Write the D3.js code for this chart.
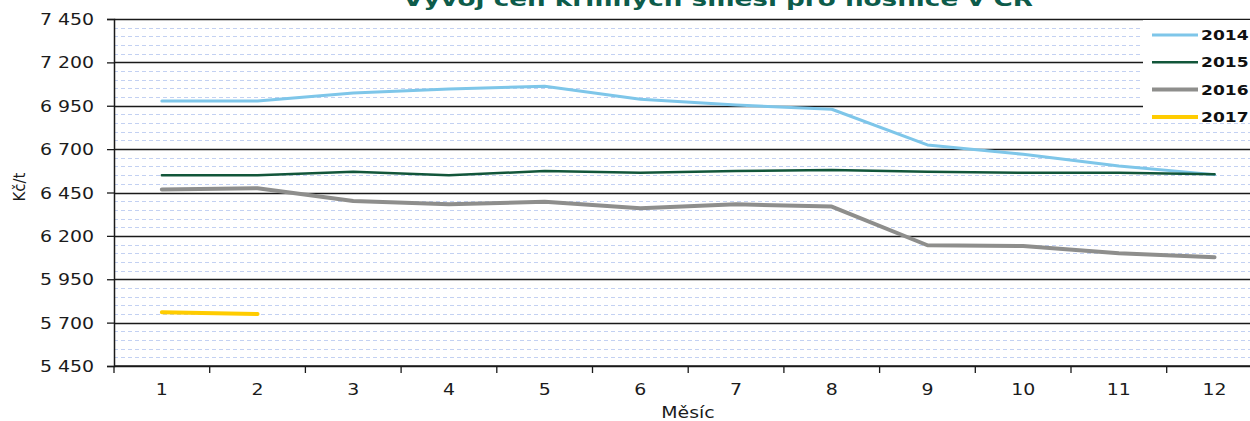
<!DOCTYPE html>
<html>
<head>
<meta charset="utf-8">
<script src="https://cdn.jsdelivr.net/npm/d3@7"></script>
<style>
  body { margin: 0; background: #fff; }
  svg { display: block; font-family: 'DejaVu Sans', Verdana, sans-serif; }
</style>
</head>
<body>
<svg width="1250" height="421"></svg>
<script>
// months and values (Kč/t)
const months = ['1', '2', '3', '4', '5', '6', '7', '8', '9', '10', '11', '12'];
const years = ['2014', '2015', '2016', '2017'];
const v2014 = [6977, 6977, 7024, 7047, 7062, 6987, 6954, 6930, 6724, 6670, 6603, 6553];
const v2015 = [6549, 6550, 6570, 6549, 6574, 6564, 6574, 6580, 6570, 6564, 6564, 6555];
const v2016 = [6468, 6475, 6401, 6382, 6397, 6359, 6382, 6369, 6146, 6142, 6100, 6077];
const v2017 = [5760, 5750];
const yTicks = [5450, 5700, 5950, 6200, 6450, 6700, 6950, 7200, 7450];

const series = [v2014, v2015, v2016, v2017];
const colors = ['#7ec6e9', '#12563a', '#8e8e8c', '#ffcc00'];
const widths = [3, 2.5, 4, 4];

// the original picture is stretched sideways a bit
const SX = 1.22;

const svg = d3.select('svg');
const margin = { top: 19, left: 114, bottom: 55 };
const height = +svg.attr('height') - margin.top - margin.bottom;
const band = 95.7;
const width = band * months.length;

const chart = svg.append('g')
    .attr('transform', `translate(${margin.left},${margin.top})`);

const xScale = d3.scaleBand().domain(months).range([0, width]);
const yScale = d3.scaleLinear().domain([5450, 7450]).range([height, 0]);

const fmt = d3.formatLocale({ decimal: ',', thousands: ' ', grouping: [3] }).format(',d');

// minor dashed grid every 50
const minor = d3.range(5500, 7450, 50).filter(d => yTicks.indexOf(d) < 0);
chart.append('g')
    .selectAll('line')
    .data(minor)
    .enter()
    .append('line')
    .attr('x1', 0)
    .attr('x2', width)
    .attr('y1', d => Math.round(yScale(d)) + 0.5)
    .attr('y2', d => Math.round(yScale(d)) + 0.5)
    .style('stroke', '#c3d1f2')
    .style('stroke-dasharray', '4,3')
    .style('stroke-width', 1);

// major grid
chart.append('g')
    .selectAll('line')
    .data(yTicks)
    .enter()
    .append('line')
    .attr('x1', 0)
    .attr('x2', width)
    .attr('y1', d => Math.round(yScale(d)) + 0.5)
    .attr('y2', d => Math.round(yScale(d)) + 0.5)
    .style('stroke', '#1a1a1a')
    .style('stroke-width', 1.3);

// Y axis
const yAxis = chart.append('g')
    .call(d3.axisLeft(yScale).tickValues(yTicks).tickFormat(fmt).tickSize(7).tickPadding(0));
yAxis.select('.domain').style('stroke', '#1a1a1a').style('stroke-width', 1.5);
yAxis.selectAll('line').style('stroke', '#1a1a1a').style('stroke-width', 1.3);
yAxis.selectAll('text')
    .attr('x', -20 / SX)
    .attr('dy', '0.36em')
    .attr('transform', `scale(${SX},1)`)
    .style('font-size', '15.5px')
    .style('fill', '#1b1b1b')
    .style('font-family', "'DejaVu Sans', Verdana, sans-serif");

// X axis, ticks on band edges
const xAxis = chart.append('g')
    .attr('transform', `translate(0,${height})`);
xAxis.append('line')
    .attr('x1', 0)
    .attr('x2', width)
    .style('stroke', '#1a1a1a')
    .style('stroke-width', 1.5);
xAxis.selectAll('.edge')
    .data(d3.range(months.length + 1))
    .enter()
    .append('line')
    .attr('class', 'edge')
    .attr('x1', i => i * xScale.step())
    .attr('x2', i => i * xScale.step())
    .attr('y1', 0)
    .attr('y2', 7)
    .style('stroke', '#1a1a1a')
    .style('stroke-width', 1.3);
xAxis.selectAll('.lbl')
    .data(months)
    .enter()
    .append('text')
    .attr('class', 'lbl')
    .attr('transform', d => `translate(${xScale(d) + xScale.bandwidth() / 2},29) scale(${SX},1)`)
    .style('text-anchor', 'middle')
    .style('font-size', '15.5px')
    .style('fill', '#1b1b1b')
    .text(d => d);

// axis titles
svg.append('text')
    .attr('transform', `translate(688,418) scale(${SX},1)`)
    .style('text-anchor', 'middle')
    .style('font-size', '15.5px')
    .style('fill', '#1b1b1b')
    .text('Měsíc');

svg.append('text')
    .attr('transform', 'translate(25,187) rotate(-90)')
    .style('text-anchor', 'middle')
    .style('font-size', '15px')
    .style('fill', '#1b1b1b')
    .text('Kč/t');

// title (cut by the top edge as in the original)
svg.append('text')
    .attr('x', 403)
    .attr('y', 6)
    .attr('textLength', 630)
    .attr('lengthAdjust', 'spacingAndGlyphs')
    .style('font-size', '20px')
    .style('font-weight', 'bold')
    .style('fill', '#0d5b4a')
    .text('Vývoj cen krmných směsí pro nosnice v ČR');

// lines
const line = d3.line()
    .x((d, i) => xScale(months[i]) + xScale.bandwidth() / 2)
    .y(d => yScale(d));

series.forEach(function(s, k) {
    chart.append('path')
        .datum(s)
        .attr('d', line)
        .style('fill', 'none')
        .style('stroke', colors[k])
        .style('stroke-width', widths[k])
        .style('stroke-linejoin', 'round')
        .style('stroke-linecap', 'round');
});

// legend
const legend = svg.append('g');
legend.append('rect')
    .attr('x', 1143)
    .attr('y', 20)
    .attr('width', 110)
    .attr('height', 101)
    .style('fill', '#fff');

const item = legend.selectAll('.legend')
    .data(years)
    .enter()
    .append('g')
    .attr('class', 'legend')
    .attr('transform', (d, i) => `translate(1152,${35 + i * 27.3})`);

item.append('line')
    .attr('x1', 0)
    .attr('x2', 46)
    .style('stroke', (d, i) => colors[i])
    .style('stroke-width', (d, i) => widths[i]);

item.append('text')
    .attr('transform', `translate(49,5) scale(${SX},1)`)
    .style('font-size', '14px')
    .style('font-weight', 'bold')
    .style('fill', '#111')
    .text(d => d);
</script>
</body>
</html>
